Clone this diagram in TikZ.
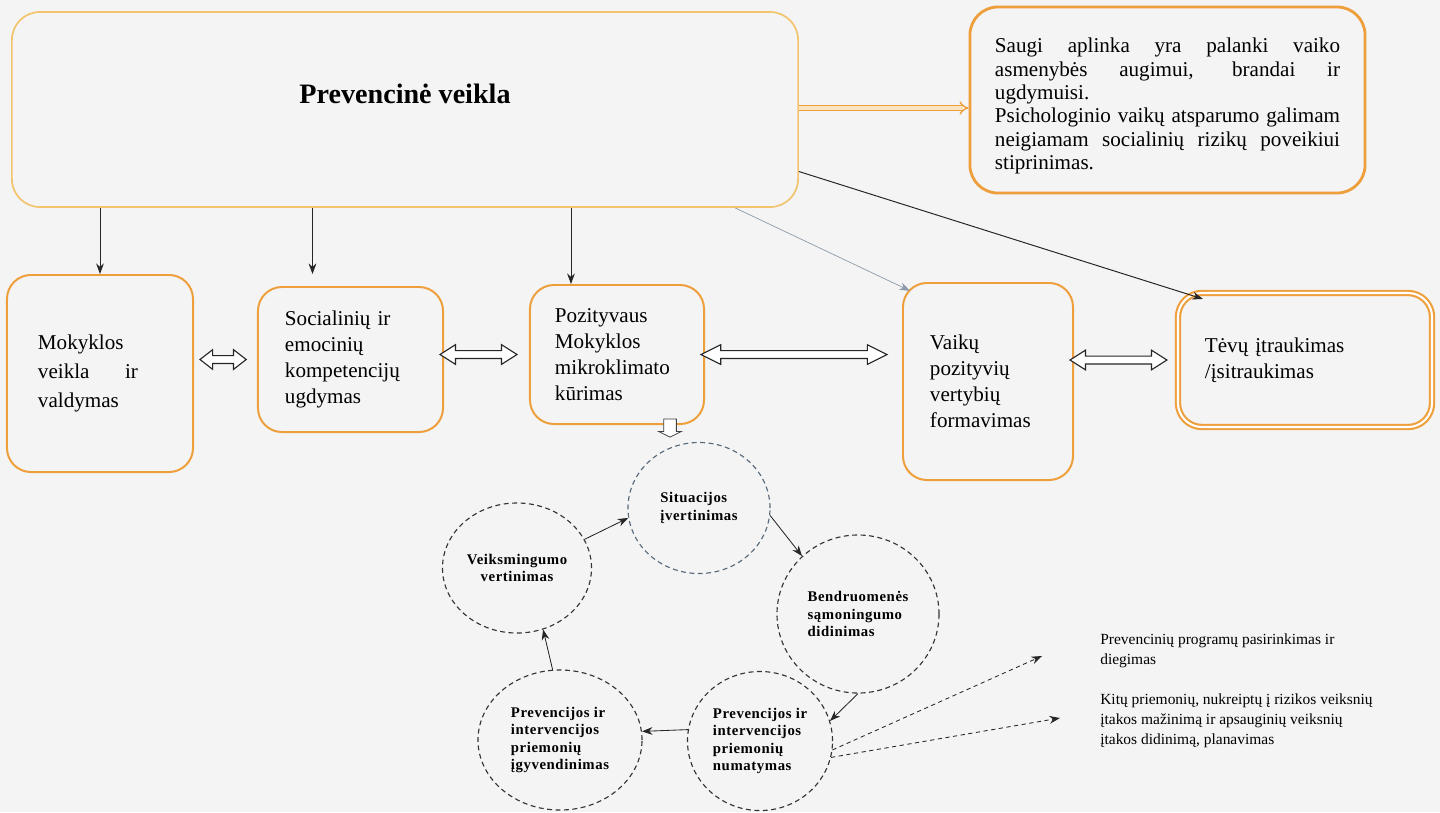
\documentclass[tikz,border=0pt]{standalone}
\usepackage{fontspec}
\setmainfont{Liberation Serif}
\newfontfamily\stepfont[LetterSpace=4]{Liberation Serif}
\usetikzlibrary{arrows.meta,shapes.geometric,calc}
\definecolor{bgpaper}{HTML}{F4F4F4}
\definecolor{boxorange}{HTML}{EE9E3A}
\definecolor{paleorange}{HTML}{F3C46E}
\definecolor{linkgray}{HTML}{8C9AAA}
\definecolor{stepblue}{HTML}{56687A}
\tikzset{
	every area/.style={
		rectangle,
		rounded corners=0.6cm,
		draw=boxorange,
		line width=1.4pt,
		inner sep=0pt,
		align=left,
		font=\fontsize{15}{18.5}\selectfont
	},
	cycle step/.style={
		ellipse,
		draw=black!80,
		line width=0.8pt,
		dash pattern=on 3.5pt off 2.5pt,
		inner sep=0pt,
		align=left,
		font=\stepfont\bfseries\fontsize{10.5}{12.5}\selectfont
	},
	hollow pair/.style={
		draw=black!85,
		line width=0.8pt,
		fill=white,
		to path={let \p1=(\tikztostart), \p2=(\tikztotarget) in
			(\x1,\y1) -- (\x1+#1,\y1+7pt) -- (\x1+#1,\y1+2.8pt) -- (\x2-#1,\y1+2.8pt)
			-- (\x2-#1,\y1+7pt) -- (\x2,\y1) -- (\x2-#1,\y1-7pt) -- (\x2-#1,\y1-2.8pt)
			-- (\x1+#1,\y1-2.8pt) -- (\x1+#1,\y1-7pt) -- cycle}
	},
	hollow pair/.default=9pt,
	hollow drop/.style={
		draw=black!75,
		line width=0.6pt,
		fill=white,
		to path={let \p1=(\tikztostart), \p2=(\tikztotarget) in
			(\x1-4.5pt,\y1) -- (\x1+4.5pt,\y1) -- (\x1+4.5pt,\y2+4pt) -- (\x1+8pt,\y2+4pt)
			-- (\x1,\y2) -- (\x1-8pt,\y2+4pt) -- (\x1-4.5pt,\y2+4pt) -- cycle}
	},
	side note/.style={
		anchor=north west,
		inner sep=0pt,
		align=left,
		font=\fontsize{11}{14.5}\selectfont
	},
}

\begin{document}
\begin{tikzpicture}[x=0.025cm, y=-0.025cm, >={Stealth[length=7.5pt,width=5.5pt]}]

\fill[bgpaper] (0,0) rectangle (1440,812);
\useasboundingbox (0,0) rectangle (1440,812);

% upper row
\node [every area, draw=paleorange, line width=1.2pt, rounded corners=0.7cm,
	minimum width=19.65cm, minimum height=4.875cm] (main) at (405,109.5) {};
\node [font=\bfseries\fontsize{20}{24}\selectfont] (mainTitle)
	at ([yshift=0.4cm]main.center) {Prevencinė veikla};

\node [every area, line width=2pt, rounded corners=0.7cm, align=justify,
	text width=8.625cm, minimum width=9.875cm, minimum height=4.65cm,
	font=\fontsize{15}{16.6}\selectfont] (goal) at (1167.5,100)
	{\rule{0pt}{19pt}Saugi aplinka yra palanki vaiko\linebreak asmenybės augimui, brandai ir\linebreak ugdymuisi.\\
	Psichologinio vaikų atsparumo galimam\linebreak neigiamam socialinių rizikų poveikiui\linebreak stiprinimas.};

% middle row
\node [every area, text width=3.1cm, minimum width=4.65cm, minimum height=4.925cm,
	font=\fontsize{15}{20.6}\selectfont] (mok) at (100,373.5)
	{Mokyklos\\ \makebox[2.5cm][s]{veikla\hfill ir}\\ valdymas};
\node [every area, text width=3.275cm, minimum width=4.625cm, minimum height=3.625cm] (soc)
	at (350.5,359.5) {Socialinių ir\\ emocinių\\ kompetencijų\\ ugdymas};
\node [every area, text width=3.1cm, minimum width=4.35cm, minimum height=3.475cm] (poz)
	at (617,354.5) {Pozityvaus\\ Mokyklos\\ mikroklimato\\ kūrimas};
\node [every area, text width=2.9cm, minimum width=4.25cm, minimum height=4.925cm] (vai)
	at (988,381.5) {Vaikų\\ pozityvių\\ vertybių\\ formavimas};
\node [every area, double=white, double distance=1.5pt, line width=1.5pt,
	text width=5cm, minimum width=6.35cm, minimum height=3.35cm] (tev)
	at (1305,360) {Tėvų įtraukimas\\ /įsitraukimas};

% cycle
\node [cycle step, draw=stepblue, minimum width=3.55cm, minimum height=3.275cm] (sit)
	at (699,508) {Situacijos\\ įvertinimas};
\node [cycle step, align=center, minimum width=3.725cm, minimum height=3.25cm] (vei)
	at (517,568) {Veiksmingumo\\ vertinimas};
\node [cycle step, minimum width=4.05cm, minimum height=3.95cm] (ben)
	at (858,614) {Bendruomenės\\ sąmoningumo\\ didinimas};
\node [cycle step, minimum width=3.625cm, minimum height=3.475cm] (num)
	at (760,741) {Prevencijos ir\\ intervencijos\\ priemonių\\ numatymas};
\node [cycle step, minimum width=4.1cm, minimum height=3.5cm] (igy)
	at (560,740) {Prevencijos ir\\ intervencijos\\ priemonių\\ įgyvendinimas};

\node [side note] (prog) at (1100,633) {Prevencinių programų pasirinkimas ir\\ diegimas};
\node [side note] (kit) at (1100,693)
	{Kitų priemonių, nukreiptų į rizikos veiksnių\\ įtakos mažinimą ir apsauginių veiksnių\\ įtakos didinimą, planavimas};
\coordinate (progTip) at (1042,656);
\coordinate (kitTip) at (1060,718);

% links from the main box
\draw [->, black!85, line width=0.6pt] (mok.north |- main.south) -- (mok.north);
\draw [->, black!85, line width=0.6pt] ([xshift=-0.95cm]soc.north |- main.south)
	-- ([xshift=-0.95cm, yshift=0.3cm]soc.north);
\draw [->, black!85, line width=0.6pt] ([xshift=-1.15cm]poz.north |- main.south)
	-- ([xshift=-1.15cm]poz.north);
\draw [->, linkgray, line width=0.5pt] ([xshift=8.25cm]main.south)
	-- ([xshift=0.2cm, yshift=-0.22cm]vai.north west);
\draw [->, black!85, line width=0.7pt] ([yshift=-1.55cm]main.east)
	-- ([xshift=0.65cm, yshift=-0.175cm]tev.north west);
\draw [draw=boxorange, line width=1pt, double=paleorange!45, double distance=2.2pt, -{Implies}]
	(main.east |- 0,108) -- (goal.west |- 0,108);

% links between the areas
\draw [hollow pair] ([xshift=0.15cm]mok.east |- soc.west) to ([xshift=-0.27cm]soc.west);
\draw [hollow pair=11pt] ([xshift=-0.1cm]soc.east |- poz.west) to ([xshift=-0.3cm]poz.west);
\draw [hollow pair=14pt] ([xshift=-0.1cm]poz.east) to ([xshift=-0.375cm]poz.east -| vai.west);
\draw [hollow pair=11pt] ([xshift=-0.1cm]vai.east |- tev.west) to ([xshift=-0.25cm]tev.west);
\draw [hollow drop] ([xshift=1.325cm, yshift=0.15cm]poz.south) to ([xshift=1.325cm, yshift=0.12cm]poz.south |- sit.north);

% cycle links
\draw [->, black!85, line width=0.6pt] (vei.23) -- (sit.188);
\draw [->, black!85, line width=0.6pt] (sit.354) -- (ben.134);
\draw [->, black!85, line width=0.6pt] (ben.south) -- (num.16);
\draw [->, black!85, line width=0.6pt] (num.171) -- (igy.6);
\draw [->, black!85, line width=0.6pt] (igy.96) -- (vei.293);
\draw [->, black!85, line width=0.6pt, dash pattern=on 3pt off 2.5pt] (num.353) -- (progTip);
\draw [->, black!85, line width=0.6pt, dash pattern=on 3pt off 2.5pt] (num.347) -- (kitTip);

\end{tikzpicture}
\end{document}
